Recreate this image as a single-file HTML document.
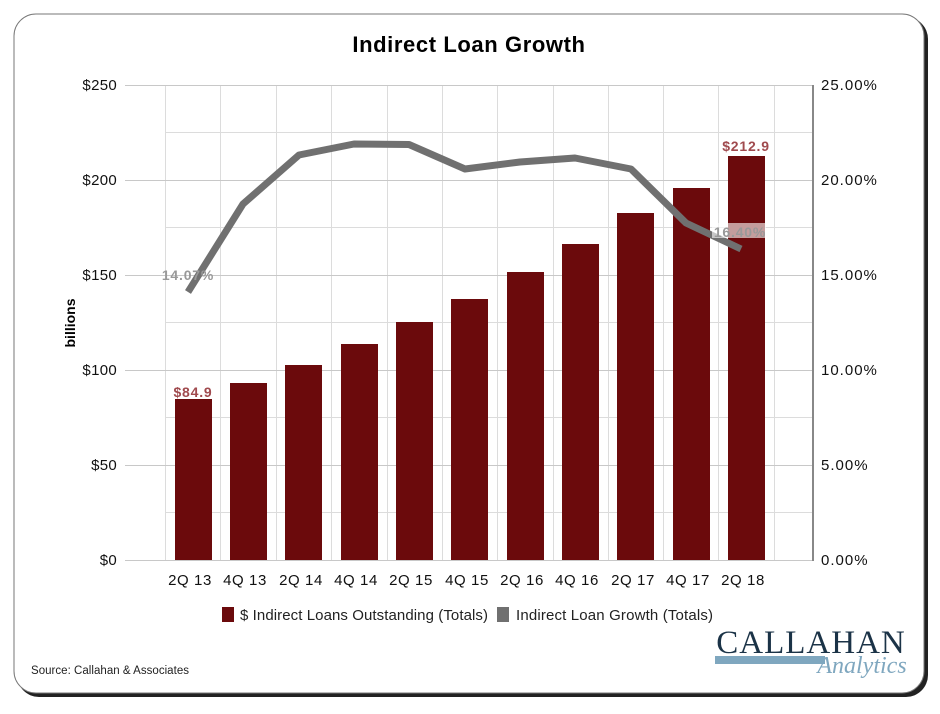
<!DOCTYPE html>
<html><head><meta charset="utf-8"><style>
body{margin:0;background:#fff;width:940px;height:709px;overflow:hidden;font-family:"Liberation Sans",sans-serif}
</style></head><body>
<svg width="940" height="709" xmlns="http://www.w3.org/2000/svg" font-family="Liberation Sans, sans-serif">
<rect x="17" y="17" width="911" height="680" rx="22" fill="#222"/>
<rect x="14" y="14" width="910" height="679" rx="22" fill="#fff" stroke="#777" stroke-width="1"/>
<text x="469" y="52" text-anchor="middle" font-size="22" font-weight="bold" fill="#000" letter-spacing="0.6">Indirect Loan Growth</text>
<g stroke="#dcdcdc" stroke-width="1">
<line x1="165" y1="132.5" x2="813" y2="132.5"/><line x1="165" y1="227.5" x2="813" y2="227.5"/><line x1="165" y1="322.5" x2="813" y2="322.5"/><line x1="165" y1="417.5" x2="813" y2="417.5"/><line x1="165" y1="512.5" x2="813" y2="512.5"/>
<line x1="165.5" y1="85" x2="165.5" y2="560"/><line x1="220.5" y1="85" x2="220.5" y2="560"/><line x1="276.5" y1="85" x2="276.5" y2="560"/><line x1="331.5" y1="85" x2="331.5" y2="560"/><line x1="387.5" y1="85" x2="387.5" y2="560"/><line x1="442.5" y1="85" x2="442.5" y2="560"/><line x1="497.5" y1="85" x2="497.5" y2="560"/><line x1="553.5" y1="85" x2="553.5" y2="560"/><line x1="608.5" y1="85" x2="608.5" y2="560"/><line x1="663.5" y1="85" x2="663.5" y2="560"/><line x1="718.5" y1="85" x2="718.5" y2="560"/><line x1="774.5" y1="85" x2="774.5" y2="560"/>
</g>
<g stroke="#c8c8c8" stroke-width="1">
<line x1="125" y1="85.5" x2="813" y2="85.5"/><line x1="125" y1="180.5" x2="813" y2="180.5"/><line x1="125" y1="275.5" x2="813" y2="275.5"/><line x1="125" y1="370.5" x2="813" y2="370.5"/><line x1="125" y1="465.5" x2="813" y2="465.5"/><line x1="125" y1="560.5" x2="813" y2="560.5"/>
</g>
<line x1="813" y1="85" x2="813" y2="561" stroke="#888" stroke-width="2"/>
<g fill="#6b0a0c">
<rect x="175" y="399" width="37" height="161"/><rect x="230" y="383" width="37" height="177"/><rect x="285" y="365" width="37" height="195"/><rect x="341" y="344" width="37" height="216"/><rect x="396" y="322" width="37" height="238"/><rect x="451" y="299" width="37" height="261"/><rect x="507" y="272" width="37" height="288"/><rect x="562" y="244" width="37" height="316"/><rect x="617" y="213" width="37" height="347"/><rect x="673" y="188" width="37" height="372"/><rect x="728" y="156" width="37" height="404"/>
</g>
<polyline points="188,292 243,204 299,155 354,144 409,144.5 465,169 520,162 575,158 631,169 686,223 741,249" fill="none" stroke="#707070" stroke-width="7" stroke-linejoin="round"/>
<g font-size="14" font-weight="bold" letter-spacing="0.8">
<text x="193" y="397" text-anchor="middle" fill="#a04a4e">$84.9</text>
<text x="746" y="151" text-anchor="middle" fill="#a04a4e">$212.9</text>
<rect x="712" y="223" width="54" height="15" fill="#fff" opacity="0.6"/>
<text x="740" y="237" text-anchor="middle" fill="#999">16.40%</text>
<text x="188" y="280" text-anchor="middle" fill="#999">14.07%</text>
</g>
<g font-size="15" fill="#111" text-anchor="end" letter-spacing="0.3">
<text x="117" y="90">$250</text><text x="117" y="185">$200</text><text x="117" y="280">$150</text><text x="117" y="375">$100</text><text x="117" y="470">$50</text><text x="117" y="565">$0</text>
</g>
<g font-size="15" fill="#111" letter-spacing="1">
<text x="821" y="90">25.00%</text><text x="821" y="185">20.00%</text><text x="821" y="280">15.00%</text><text x="821" y="375">10.00%</text><text x="821" y="470">5.00%</text><text x="821" y="565">0.00%</text>
</g>
<text transform="translate(75,323) rotate(-90)" text-anchor="middle" font-size="14" font-weight="bold">billions</text>
<g font-size="15" fill="#111" text-anchor="middle" letter-spacing="0.6">
<text x="190" y="585">2Q 13</text><text x="245" y="585">4Q 13</text><text x="301" y="585">2Q 14</text><text x="356" y="585">4Q 14</text><text x="411" y="585">2Q 15</text><text x="467" y="585">4Q 15</text><text x="522" y="585">2Q 16</text><text x="577" y="585">4Q 16</text><text x="633" y="585">2Q 17</text><text x="688" y="585">4Q 17</text><text x="743" y="585">2Q 18</text>
</g>
<rect x="222" y="607" width="12" height="15" fill="#6b0a0c"/>
<text x="240" y="620" font-size="15" fill="#222" textLength="248">$ Indirect Loans Outstanding (Totals)</text>
<rect x="497" y="607" width="12" height="15" fill="#707070"/>
<text x="516" y="620" font-size="15" fill="#222" textLength="197">Indirect Loan Growth (Totals)</text>
<text x="31" y="674" font-size="11.5" fill="#222" textLength="158">Source: Callahan &amp; Associates</text>
<text x="811" y="653" text-anchor="middle" font-family="Liberation Serif, serif" font-size="33" fill="#1b3347" letter-spacing="1">CALLAHAN</text>
<rect x="715" y="656" width="110" height="8" fill="#7fa7bf"/>
<text x="862" y="673" text-anchor="middle" font-family="Liberation Serif, serif" font-style="italic" font-size="24" fill="#7fa7bf">Analytics</text>
</svg>
</body></html>
